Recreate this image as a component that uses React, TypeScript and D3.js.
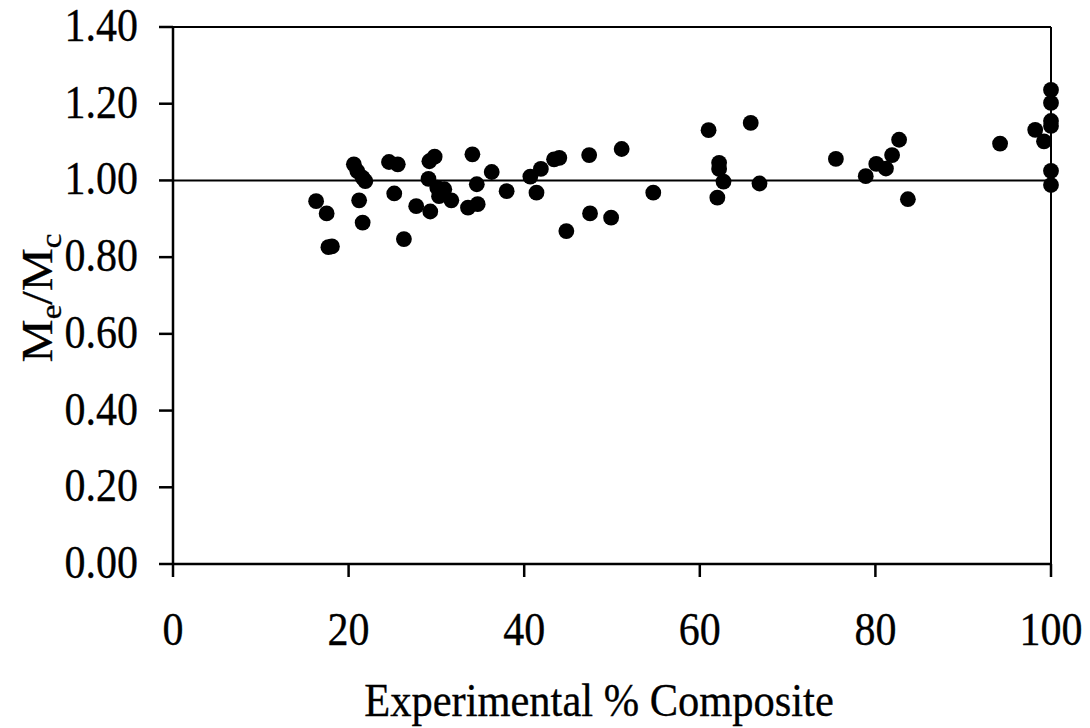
import React from "react";
import { scaleLinear } from "d3";

// experimental % composite (x) and Me/Mc ratio (y)
const xValues = [
  16.3, 17.5, 17.7, 18.1, 20.6, 21.0, 21.6, 21.9, 21.2, 21.6,
  24.6, 25.6, 25.2, 26.3, 27.7, 29.3, 29.1, 29.2, 29.8, 30.1,
  30.9, 30.3, 31.7, 34.1, 34.6, 33.6, 34.7, 36.3, 38.0, 40.7,
  41.9, 41.4, 43.4, 44.0, 47.4, 51.1, 44.8, 47.5, 49.9, 54.7,
  61.0, 65.8, 62.2, 62.2, 62.7, 62.0, 66.8, 75.5, 78.9, 80.1,
  81.2, 81.9, 82.7, 83.7, 94.2, 98.2, 99.2, 100, 100, 100,
  100, 100, 100,
];
const yValues = [
  0.946, 0.914, 0.826, 0.828, 1.042, 1.024, 1.007, 0.998, 0.948, 0.89,
  1.048, 1.042, 0.966, 0.847, 0.933, 0.919, 1.004, 1.05, 1.062, 0.981,
  0.977, 0.959, 0.948, 1.068, 0.99, 0.929, 0.938, 1.022, 0.972, 1.01,
  1.03, 0.968, 1.055, 1.059, 1.066, 1.082, 0.868, 0.914, 0.903, 0.968,
  1.131, 1.15, 1.046, 1.03, 0.997, 0.955, 0.992, 1.056, 1.011, 1.043,
  1.031, 1.066, 1.106, 0.951, 1.096, 1.132, 1.102, 1.236, 1.202, 1.155,
  1.142, 1.025, 0.988,
];
const xTicks = [0, 20, 40, 60, 80, 100];
const yTicks = [0, 0.2, 0.4, 0.6, 0.8, 1.0, 1.2, 1.4];

const font = "'Liberation Serif', 'Times New Roman', serif";
// glyphs in the scan are a little taller than they are wide
const stretch = 1.1;

export default function App() {
  const width = 1090;
  const height = 728;
  const left = 173;
  const right = 1051;
  const top = 27;
  const bottom = 564;

  const x = scaleLinear().domain([0, 100]).range([left, right]);
  const y = scaleLinear().domain([0, 1.4]).range([bottom, top]);

  const txt = { fill: "#000", stroke: "#000", strokeWidth: 0.3 };

  return (
    <svg
      width={width}
      height={height}
      style={{ position: "absolute", left: 0, top: 0, background: "#fff" }}
      fontFamily={font}
    >
      {/* reference line at 1.00 */}
      <line x1={left} x2={right} y1={y(1)} y2={y(1)} stroke="#000" strokeWidth={2} />

      {/* frame */}
      <line x1={left} x2={right} y1={top} y2={top} stroke="#000" strokeWidth={2} />
      <line x1={right} x2={right} y1={top} y2={bottom} stroke="#000" strokeWidth={2} />
      <line x1={left} x2={left} y1={top} y2={bottom} stroke="#000" strokeWidth={2.5} />
      <line x1={left} x2={right} y1={bottom} y2={bottom} stroke="#000" strokeWidth={2.5} />

      {/* y ticks */}
      {yTicks.map((t) => (
        <g key={t}>
          <line x1={left - 14} x2={left} y1={y(t)} y2={y(t)} stroke="#000" strokeWidth={2.5} />
          <text
            transform={`translate(138, ${y(t) + 14}) scale(1, ${stretch})`}
            textAnchor="end"
            fontSize={42}
            {...txt}
          >
            {t.toFixed(2)}
          </text>
        </g>
      ))}

      {/* x ticks */}
      {xTicks.map((t) => (
        <g key={t}>
          <line x1={x(t)} x2={x(t)} y1={bottom} y2={bottom + 13} stroke="#000" strokeWidth={2.5} />
          <text
            transform={`translate(${x(t)}, 645) scale(1, ${stretch})`}
            textAnchor="middle"
            fontSize={42}
            {...txt}
          >
            {t}
          </text>
        </g>
      ))}

      {/* points */}
      {xValues.map((v, i) => (
        <circle key={i} cx={x(v)} cy={y(yValues[i])} r={7.9} fill="#000" />
      ))}

      {/* axis titles */}
      <text
        transform={`translate(599, 716) scale(1, ${stretch})`}
        textAnchor="middle"
        fontSize={42.5}
        {...txt}
      >
        Experimental % Composite
      </text>
      <text
        transform={`translate(52, 298) rotate(-90) scale(${stretch}, 1)`}
        textAnchor="middle"
        fontSize={44}
        {...txt}
      >
        M<tspan fontSize={30} dy={9}>e</tspan>
        <tspan dy={-9}>/M</tspan>
        <tspan fontSize={30} dy={9}>c</tspan>
      </text>
    </svg>
  );
}
